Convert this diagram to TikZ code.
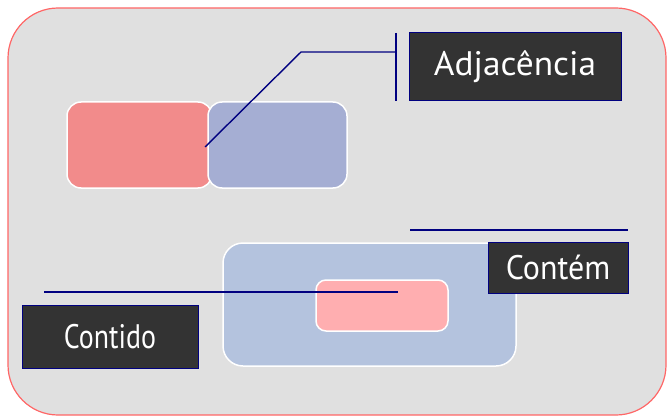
\documentclass[tikz,border=0pt]{standalone}
\usepackage{graphicx}
\usepackage{fontspec}
\setmainfont{PT Sans}
\definecolor{bgfill}{HTML}{E0E0E0}
\definecolor{bgline}{HTML}{FF6666}
\definecolor{redbox}{HTML}{F28B8B}
\definecolor{bluebox}{HTML}{A5AED3}
\definecolor{bigblue}{HTML}{B4C3DE}
\definecolor{pinkbox}{HTML}{FFAEB0}
\definecolor{labfill}{HTML}{333333}
\definecolor{navy}{HTML}{000080}
\tikzset{
  shapebox/.style={draw=white, line width=1.5pt, rounded corners=14pt, inner sep=0pt},
  label box/.style={draw=navy, fill=labfill, line width=1pt, text=white, inner sep=0pt, font=\fontsize{34}{36}\selectfont},
  callout/.style={draw=navy, line width=1.4pt}
}
\begin{document}
\begin{tikzpicture}[x=1pt,y=-1pt]
\useasboundingbox (0,0) rectangle (668,417);
\node[draw=bgline, fill=bgfill, line width=1.2pt, rounded corners=50pt, minimum width=658pt, minimum height=407pt, inner sep=0pt] (frame) at (337,211.5) {};
% adjacency
\node[shapebox, fill=redbox, minimum width=145pt, minimum height=86pt] (red) at (139.5,145) {};
\node[shapebox, fill=bluebox, minimum width=139pt, minimum height=86pt] (blue) at (277.5,145) {};
\node[label box, minimum width=212pt, minimum height=68pt] (adj) at (515,67) {\scalebox{1.04}[1]{Adjacência}};
\coordinate (a0) at (205,147);
\coordinate (a1) at (301,52);
\coordinate (a2) at (396,52);
\coordinate (t1) at (396,33);
\coordinate (t2) at (396,101);
\draw[callout] (a0) -- (a1) -- (a2);
\draw[callout] (t1) -- (t2);
% containment
\node[shapebox, fill=bigblue, rounded corners=20pt, minimum width=293pt, minimum height=123pt] (big) at (369.5,304.5) {};
\node[shapebox, fill=pinkbox, rounded corners=10pt, minimum width=132pt, minimum height=51pt] (small) at (382,305.5) {};
\node[label box, minimum width=140pt, minimum height=51pt] (contem) at (558,267.5) {\scalebox{0.94}[1]{Contém}};
\node[label box, minimum width=176pt, minimum height=63pt] (contido) at (110,336.5) {\scalebox{0.82}[1]{Contido}};
\coordinate (c0) at (410,230);
\coordinate (c1) at (628,230);
\draw[callout] (c0) -- (c1);
\coordinate (d0) at (44,292);
\coordinate (d1) at (398,292);
\draw[callout] (d0) -- (d1);
\end{tikzpicture}
\end{document}
